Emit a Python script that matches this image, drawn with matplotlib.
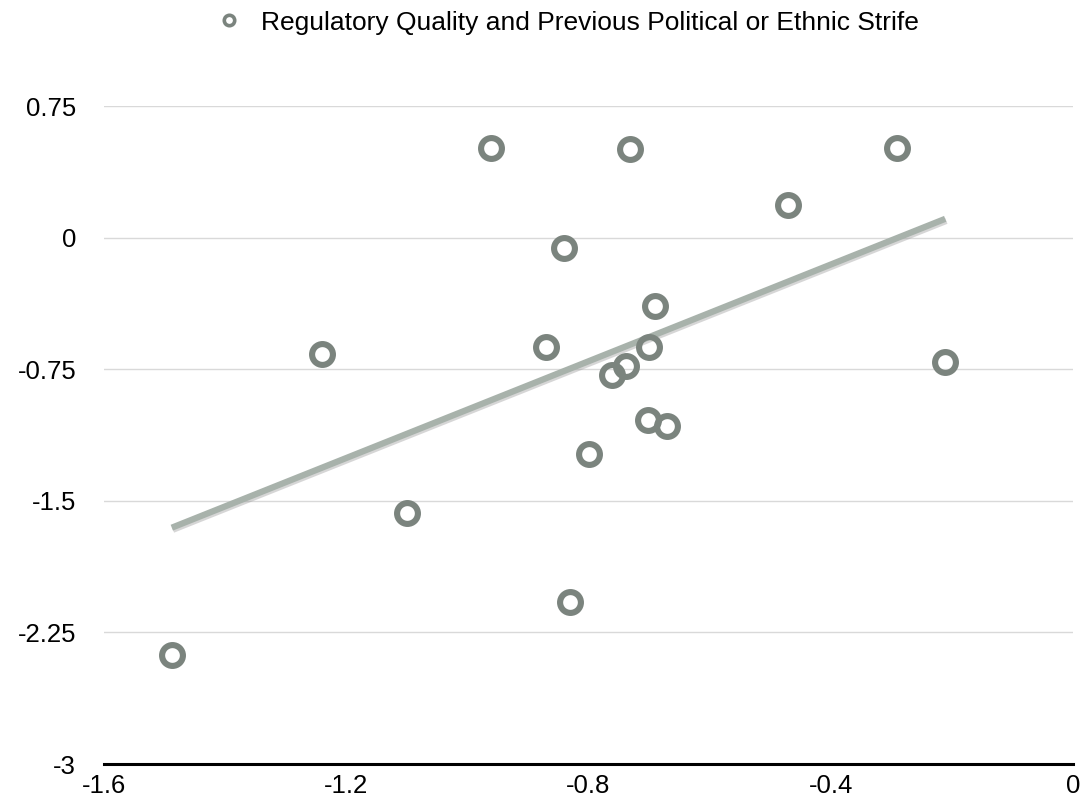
import numpy as np
import matplotlib
matplotlib.use("Agg")
import matplotlib.pyplot as plt
import matplotlib.patheffects as pe

# Regulatory quality (x) vs previous political / ethnic strife (y)
reg_quality = [-1.488, -1.240, -1.100, -0.961, -0.870, -0.840, -0.831, -0.799, -0.761,
               -0.738, -0.731, -0.700, -0.690, -0.702, -0.670, -0.471, -0.291, -0.211]
strife = [-2.378, -0.666, -1.567, 0.510, -0.626, -0.060, -2.075, -1.236, -0.785,
          -0.734, 0.505, -0.626, -0.392, -1.042, -1.076, 0.185, 0.510, -0.711]

x_ticks = [-1.6, -1.2, -0.8, -0.4, 0]
x_labels = ["-1.6", "-1.2", "-0.8", "-0.4", "0"]
y_ticks = [-3, -2.25, -1.5, -0.75, 0, 0.75]
y_labels = ["-3", "-2.25", "-1.5", "-0.75", "0", "0.75"]

plt.rcParams['font.family'] = ['Liberation Sans', 'DejaVu Sans']

fig = plt.figure(figsize=(10.91, 8.05), dpi=100)
ax = fig.add_axes([0.0953, 0.0509, 0.8882, 0.8174])

x = np.array(reg_quality)
y = np.array(strife)

# linear trend line
slope, intercept = np.polyfit(x, y, 1)
xl = np.array([x.min(), x.max()])
ax.plot(xl, slope * xl + intercept, color="#a8b2ab", lw=4.5, solid_capstyle="butt",
        zorder=2,
        path_effects=[pe.SimpleLineShadow(offset=(0.8, -1.5), shadow_color="#9a9a9a", alpha=0.4),
                      pe.Normal()])

ax.plot(x, y, linestyle="none", marker="o", markersize=15, markerfacecolor="none",
        markeredgecolor="#7b847e", markeredgewidth=4.4, zorder=3,
        label="Regulatory Quality and Previous Political or Ethnic Strife")

ax.set_xlim(-1.6, 0)
ax.set_ylim(-3, 0.75)
ax.set_xticks(x_ticks)
ax.set_xticklabels(x_labels)
ax.set_yticks(y_ticks)
ax.set_yticklabels(y_labels)
ax.tick_params(axis="both", length=0, labelsize=18.5, colors="black")
ax.tick_params(axis="y", pad=20)
ax.tick_params(axis="x", pad=7)

ax.grid(axis="y", color="#d9d9d9", lw=1.0)
ax.set_axisbelow(True)
for s in ["left", "right", "top"]:
    ax.spines[s].set_visible(False)
ax.spines["bottom"].set_linewidth(2.2)
ax.spines["bottom"].set_color("black")

leg = fig.legend(loc="center", bbox_to_anchor=(0.519, 0.972), frameon=False,
                 fontsize=19, handletextpad=0.6, handlelength=1.2, markerscale=0.5)
for h in leg.legend_handles:
    h.set_markeredgewidth(2.6)

fig.savefig("out.png", dpi=100)
